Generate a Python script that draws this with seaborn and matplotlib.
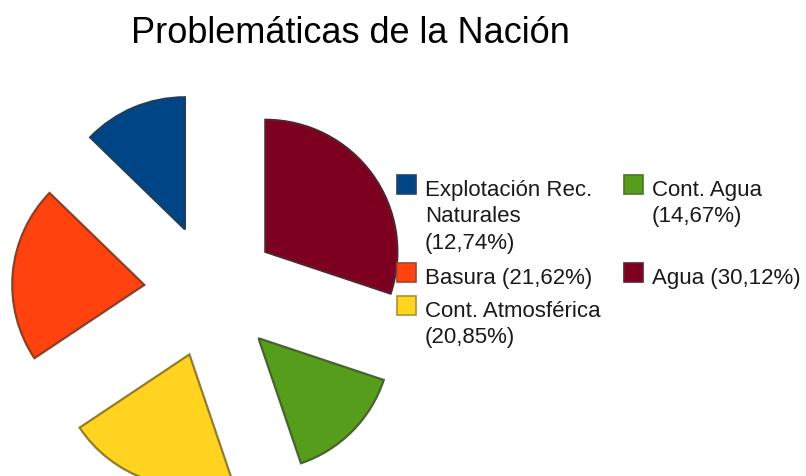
import numpy as np
import matplotlib
matplotlib.use("Agg")
import matplotlib.pyplot as plt
import matplotlib.colors as mcolors
from matplotlib.patches import Rectangle
import seaborn as sns

# datos (sentido horario desde las 12)
categorias = ["Agua", "Cont. Agua", "Cont. Atmosférica", "Basura", "Explotación Rec. Naturales"]
porcentajes = [30.12, 14.67, 20.85, 21.62, 12.74]
colores = ["#7E0021", "#579D1C", "#FFD320", "#FF420E", "#004586"]

# textos de la leyenda, en el orden en que aparecen
leyenda_textos = [
    "Explotación Rec.\nNaturales\n(12,74%)",
    "Cont. Agua\n(14,67%)",
    "Basura (21,62%)",
    "Agua (30,12%)",
    "Cont. Atmosférica\n(20,85%)",
]
leyenda_colores = ["#004586", "#579D1C", "#FF420E", "#7E0021", "#FFD320"]

sns.set_style("white")
plt.rcParams["font.family"] = ["Liberation Sans", "DejaVu Sans"]

W, H = 806, 477


def oscurecer(c, f=0.45):
    r, g, b = mcolors.to_rgb(c)
    gris = 0.12
    return (r * f + gris, g * f + gris, b * f + gris)


fig = plt.figure(figsize=(W / 100, H / 100), dpi=100)
ax = fig.add_axes([0, 0, 1, 1])

# en matplotlib el desplazamiento de explode va en unidades de datos
wedges, _ = ax.pie(
    porcentajes,
    colors=colores,
    startangle=90,
    counterclock=False,
    explode=[67] * len(porcentajes),
    radius=132,
    center=(211, H - 292),
    wedgeprops=dict(linewidth=1.6),
)
for w, c in zip(wedges, colores):
    w.set_edgecolor(oscurecer(c))

ax.set_xlim(0, W)
ax.set_ylim(0, H)
ax.set_aspect("equal")
ax.axis("off")

# titulo
ax.text(350, H - 43, "Problemáticas de la Nación", ha="center", va="baseline",
        fontsize=26, color="black")

# leyenda (dos columnas), una linea de texto cada vez
posiciones = [(397, 196), (624, 196), (397, 284), (624, 284), (397, 317)]
paso = 26.5
for (x, yb), txt, col in zip(posiciones, leyenda_textos, leyenda_colores):
    ax.add_patch(Rectangle((x, H - yb + 1), 19, 19, facecolor=col,
                           edgecolor=oscurecer(col, 0.55), linewidth=1.2))
    for i, linea in enumerate(txt.split("\n")):
        ax.text(x + 28, H - yb - i * paso, linea, ha="left", va="baseline",
                fontsize=16, color="#1a1a1a")

fig.savefig("out.png", dpi=100)
